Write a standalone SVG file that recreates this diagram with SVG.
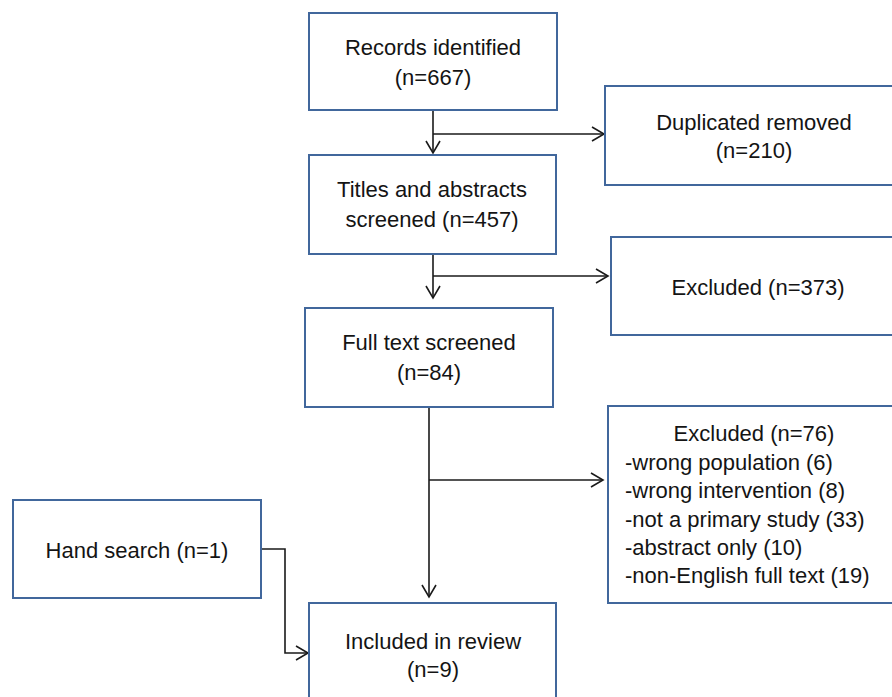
<svg xmlns="http://www.w3.org/2000/svg" width="892" height="697" viewBox="0 0 892 697">
<style>
.box{fill:#ffffff;stroke:#41679c;stroke-width:2}
.t{font-family:"Liberation Sans",Arial,sans-serif;font-size:22px;fill:#141414}
.c{text-anchor:middle}
.ln{fill:none;stroke:#1a1a1a;stroke-width:1.6}
</style>
<defs>
<marker id="arr" markerUnits="userSpaceOnUse" markerWidth="16" markerHeight="18" viewBox="0 0 16 18" refX="14" refY="9" orient="auto">
<path d="M2,2 L14,9 L2,16" fill="none" stroke="#1a1a1a" stroke-width="1.6"/>
</marker>
</defs>
<rect width="892" height="697" fill="#ffffff"/>
<g id="connectors">
<path class="ln" d="M433,110 V153" marker-end="url(#arr)"/>
<path class="ln" d="M433,134 H604" marker-end="url(#arr)"/>
<path class="ln" d="M433,254 V298" marker-end="url(#arr)"/>
<path class="ln" d="M433,276 H608" marker-end="url(#arr)"/>
<path class="ln" d="M429,407 V597" marker-end="url(#arr)"/>
<path class="ln" d="M429,480 H603" marker-end="url(#arr)"/>
<path class="ln" d="M261,549 H285 V653 H308" marker-end="url(#arr)"/>
</g>
<g id="records">
<rect class="box" x="309" y="13" width="248" height="97"/>
<text class="t c" x="433" y="55">Records identified</text>
<text class="t c" x="433" y="85">(n=667)</text>
</g>
<g id="duplicates">
<rect class="box" x="605" y="86" width="300" height="99"/>
<text class="t c" x="754" y="130">Duplicated removed</text>
<text class="t c" x="754" y="158">(n=210)</text>
</g>
<g id="titles">
<rect class="box" x="309" y="155" width="247" height="99"/>
<text class="t c" x="432" y="197">Titles and abstracts</text>
<text class="t c" x="432" y="227">screened (n=457)</text>
</g>
<g id="excluded1">
<rect class="box" x="611" y="237" width="295" height="98"/>
<text class="t c" x="758" y="295">Excluded (n=373)</text>
</g>
<g id="fulltext">
<rect class="box" x="305" y="308" width="248" height="99"/>
<text class="t c" x="429" y="350">Full text screened</text>
<text class="t c" x="429" y="380">(n=84)</text>
</g>
<g id="excluded2">
<rect class="box" x="608" y="406" width="295" height="197"/>
<text class="t c" x="754" y="441">Excluded (n=76)</text>
<text class="t" x="625" y="470">-wrong population (6)</text>
<text class="t" x="625" y="498">-wrong intervention (8)</text>
<text class="t" x="625" y="527">-not a primary study (33)</text>
<text class="t" x="625" y="555">-abstract only (10)</text>
<text class="t" x="625" y="583">-non-English full text (19)</text>
</g>
<g id="handsearch">
<rect class="box" x="13" y="500" width="248" height="98"/>
<text class="t c" x="137" y="558">Hand search (n=1)</text>
</g>
<g id="included">
<rect class="box" x="309" y="603" width="247" height="110"/>
<text class="t c" x="433" y="649">Included in review</text>
<text class="t c" x="433" y="677">(n=9)</text>
</g>
</svg>
